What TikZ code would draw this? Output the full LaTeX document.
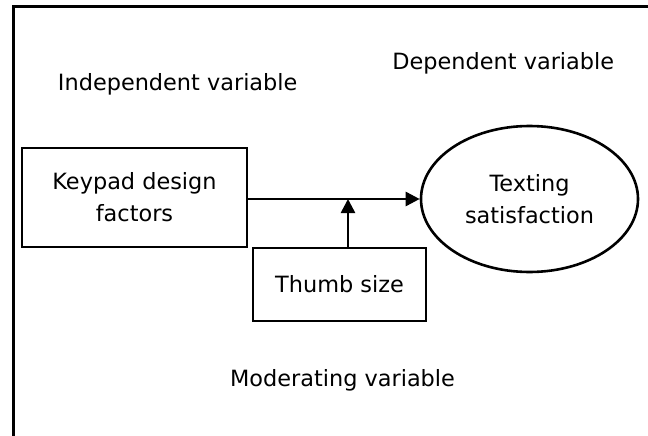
\documentclass[tikz,border=0pt]{standalone}
\usepackage{fontspec}
\setmainfont{DejaVu Sans}
\usetikzlibrary{arrows.meta,shapes.geometric}
\begin{document}
\begin{tikzpicture}[x=1pt,y=-1pt,
  every node/.style={font=\fontsize{22.4}{32}\selectfont},
  varbox/.style={draw,line width=2.6pt,inner sep=0pt,align=center},
  varlabel/.style={anchor=base,inner sep=0pt},
  conn/.style={line width=2.6pt,-{Triangle[length=14pt,width=14pt]}}]
\useasboundingbox (0,0) rectangle (648,436);
\draw[line width=3pt,line join=miter] (13,440) coordinate (fb) -- (13,7) coordinate (fc) -- (652,7) coordinate (fr);
\node[varlabel] (indep) at (177.7,91) {Independent variable};
\node[varlabel] (dep) at (503.3,70) {Dependent variable};
\node[varlabel] (mod) at (342.5,386) {Moderating variable};
\node[varbox,minimum width=225pt,minimum height=99pt] (keypad) at (134.5,197.5) {Keypad design\\factors};
\node[varbox,minimum width=173pt,minimum height=73pt] (thumb) at (339.5,284.5) {Thumb size};
\node[varbox,ellipse,minimum width=217pt,minimum height=146pt] (sat) at (529.5,199) {Texting\\satisfaction};
\coordinate (m) at (348,199);
\draw[conn] (keypad.east |- sat.west) -- (sat.west);
\draw[conn] (thumb.north -| m) -- (m);
\end{tikzpicture}
\end{document}
